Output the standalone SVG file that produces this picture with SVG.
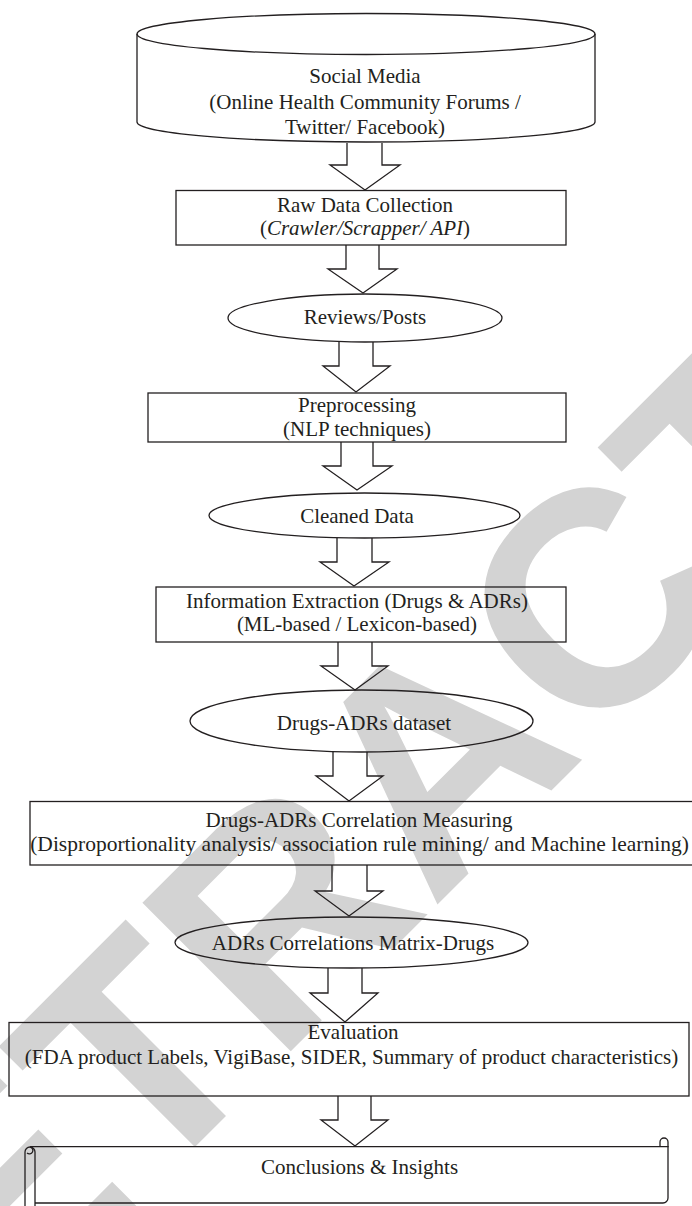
<svg xmlns="http://www.w3.org/2000/svg" width="692" height="1206" viewBox="0 0 692 1206">
<style>
.bg{fill:#ffffff}
.wm{font-family:"Liberation Sans",Arial,sans-serif;font-weight:bold;font-size:305px;fill:#d3d3d3}
.sh{fill:none;stroke:#231f20;stroke-width:1.3}
.ar{fill:none;stroke:#231f20;stroke-width:1.3;stroke-linejoin:miter}
.t{font-family:"Liberation Serif","Times New Roman",serif;font-size:21px;fill:#231f20;text-anchor:middle}
.it{font-style:italic}
</style>
<rect class="bg" x="0" y="0" width="692" height="1206"/>
<g id="watermark">
<text class="wm" transform="translate(-155,1497) rotate(-45)" x="0" y="0">RETRACTED</text>
</g>
<g id="connectors">
<path class="ar" d="M347 143 V165 H330 L365 190 L400 165 H382 V143"/>
<path class="ar" d="M346 245 V269 H328 L363 293 L397 269 H379 V245"/>
<path class="ar" d="M339 342 V366 H323 L356 392 L390 366 H373 V342"/>
<path class="ar" d="M341 442 V466 H323 L357 490 L392 466 H373 V442"/>
<path class="ar" d="M337 538 V562 H320 L354 586 L389 562 H372 V538"/>
<path class="ar" d="M338 642 V666 H321 L355 690 L388 666 H372 V642"/>
<path class="ar" d="M333 752 V776 H316 L349 801 L383 776 H367 V752"/>
<path class="ar" d="M332 865 V891 H315 L349 916 L383 891 H367 V865"/>
<path class="ar" d="M328 968 V993 H310 L345 1022 L378 993 H362 V968"/>
<path class="ar" d="M338 1096 V1120 H321 L355 1146 L388 1120 H371 V1096"/>
</g>
<g id="social-media">
<path class="sh" d="M137 34 V122 A229 20 0 0 0 595 122 V34"/>
<ellipse class="sh" cx="366" cy="34" rx="229" ry="20.5"/>
<text class="t" x="365" y="83">Social Media</text>
<text class="t" x="365" y="109">(Online Health Community Forums /</text>
<text class="t" x="365" y="134">Twitter/ Facebook)</text>
</g>
<g id="raw-data">
<rect class="sh" x="176" y="190.5" width="390" height="54.5"/>
<text class="t" x="365" y="212">Raw Data Collection</text>
<text class="t" x="365" y="235">(<tspan class="it">Crawler/Scrapper/ API</tspan>)</text>
</g>
<g id="reviews">
<ellipse class="sh" cx="365" cy="318" rx="137" ry="24"/>
<text class="t" x="365" y="324">Reviews/Posts</text>
</g>
<g id="preprocessing">
<rect class="sh" x="148" y="393" width="418" height="49"/>
<text class="t" x="357" y="412">Preprocessing</text>
<text class="t" x="357" y="436">(NLP techniques)</text>
</g>
<g id="cleaned">
<ellipse class="sh" cx="364.5" cy="515.5" rx="155.5" ry="22.5"/>
<text class="t" x="357" y="523">Cleaned Data</text>
</g>
<g id="extraction">
<rect class="sh" x="156" y="587" width="410" height="55"/>
<text class="t" x="357" y="608">Information Extraction (Drugs &amp; ADRs)</text>
<text class="t" x="357" y="631">(ML-based / Lexicon-based)</text>
</g>
<g id="dataset">
<ellipse class="sh" cx="361.5" cy="721" rx="171.5" ry="31"/>
<text class="t" x="364" y="730">Drugs-ADRs dataset</text>
</g>
<g id="correlation">
<rect class="sh" x="30" y="801.5" width="680" height="63.5"/>
<text class="t" x="359" y="827">Drugs-ADRs Correlation Measuring</text>
<text class="t" x="359.5" y="851" style="font-size:21.5px">(Disproportionality analysis/ association rule mining/ and Machine learning)</text>
</g>
<g id="matrix">
<ellipse class="sh" cx="351.5" cy="942.5" rx="176.5" ry="25.5"/>
<text class="t" x="353" y="950">ADRs Correlations Matrix-Drugs</text>
</g>
<g id="evaluation">
<rect class="sh" x="9" y="1022.5" width="680" height="73.5"/>
<text class="t" x="353" y="1039">Evaluation</text>
<text class="t" x="351.5" y="1064">(FDA product Labels, VigiBase, SIDER, Summary of product characteristics)</text>
</g>
<g id="conclusions">
<path class="sh" d="M30 1146.7 H664"/>
<path class="sh" d="M664 1146.7 H668 V1142 A4 4 0 1 0 660 1142 V1146.7"/>
<path class="sh" d="M668 1146 V1198 A5 5 0 0 1 663 1203 H35"/>
<path class="sh" d="M25 1207 V1152 A5 5 0 0 1 35 1152 V1207"/>
<path class="sh" d="M30 1147 A3.5 3.5 0 1 1 27 1153"/>
<text class="t" x="359.5" y="1174">Conclusions &amp; Insights</text>
</g>
</svg>
